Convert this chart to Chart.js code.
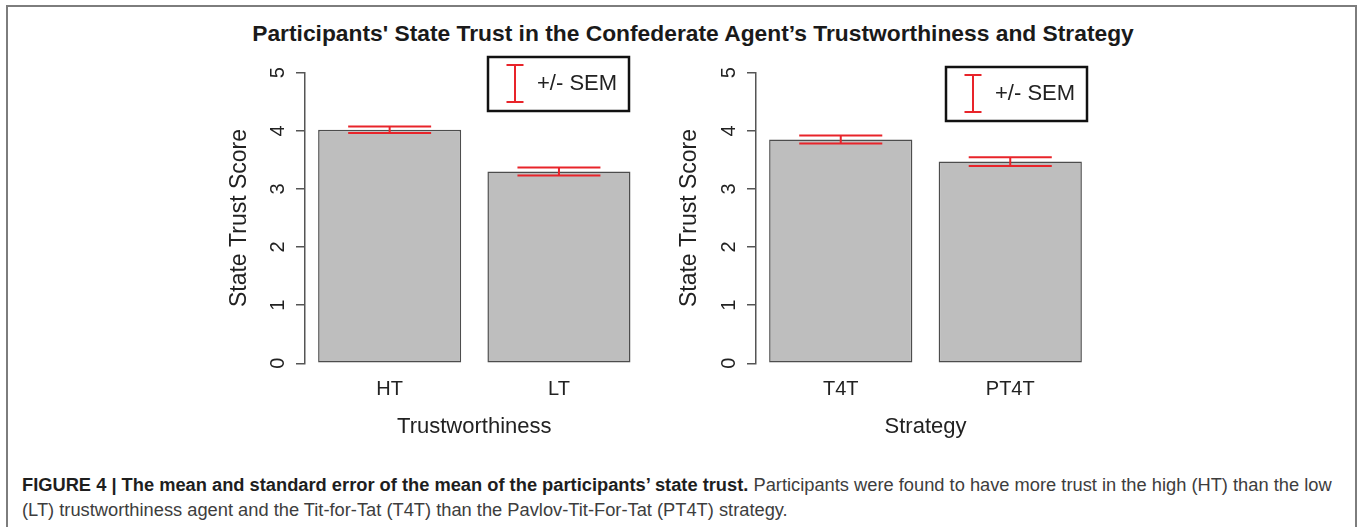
<!DOCTYPE html>
<html>
<head>
<meta charset="utf-8">
<script src="https://cdn.jsdelivr.net/npm/chart.js@4.4.1/dist/chart.umd.min.js"></script>
<style>
  html, body { margin: 0; padding: 0; background: #fff; }
  body { width: 1360px; height: 527px; position: relative; overflow: hidden;
         font-family: "Liberation Sans", Arial, Helvetica, sans-serif; }
  #frame { position: absolute; left: 6px; top: 5px; width: 1347px; height: 540px;
           border: 2px solid #7d7d7d; border-bottom: none; }
  #title { position: absolute; left: 0; width: 1386px; top: 22px; text-align: center;
           font: bold 22.8px/22px "Liberation Sans", Arial, sans-serif; color: #1a1a1a; white-space: nowrap; }
  #caption { position: absolute; left: 22px; top: 472px; font-size: 18.3px; line-height: 25px;
             color: #3d3d3d; white-space: nowrap; }
  #caption b { color: #1e1e1e; }
  .panel { position: absolute; top: 55px; width: 455px; height: 389px; }
  #panelTrust { left: 205px; }
  #panelStrategy { left: 656px; }
</style>
</head>
<body>
<div id="frame"></div>
<div id="title">Participants' State Trust in the Confederate Agent’s Trustworthiness and Strategy</div>
<div class="panel" id="panelTrust"><canvas id="trustChart"></canvas></div>
<div class="panel" id="panelStrategy"><canvas id="strategyChart"></canvas></div>
<div id="caption"><b>FIGURE 4 | The mean and standard error of the mean of the participants’ state trust.</b> Participants were found to have more trust in the high (HT) than the low<br>(LT) trustworthiness agent and the Tit-for-Tat (T4T) than the Pavlov-Tit-For-Tat (PT4T) strategy.</div>

<script>
// Mean state trust score and its standard error for each condition
const trustLabels = ['HT', 'LT'];
const trustMeans = [4.02, 3.30];
const trustSem = [0.056, 0.068];

const strategyLabels = ['T4T', 'PT4T'];
const strategyMeans = [3.85, 3.47];
const strategySem = [0.07, 0.075];

const yTicks = [0, 1, 2, 3, 4, 5];

const FONT = '"Liberation Sans", Arial, Helvetica, sans-serif';
const INK = '#222';
const AXIS = '#555';
const SEM_RED = '#e8242a';

// Error bars (mean +/- SEM) drawn on top of each bar
const semBars = {
  id: 'semBars',
  afterDatasetsDraw(chart) {
    const ds = chart.data.datasets[0];
    const meta = chart.getDatasetMeta(0);
    const y = chart.scales.y;
    const ctx = chart.ctx;
    ctx.save();
    ctx.strokeStyle = SEM_RED;
    ctx.lineWidth = 2;
    meta.data.forEach((bar, i) => {
      const m = ds.data[i], s = ds.sem[i];
      const yt = y.getPixelForValue(m + s);
      const yb = y.getPixelForValue(m - s);
      const hw = bar.width * 0.29;
      ctx.beginPath();
      ctx.moveTo(bar.x, yt); ctx.lineTo(bar.x, yb);
      ctx.moveTo(bar.x - hw, yt); ctx.lineTo(bar.x + hw, yt);
      ctx.moveTo(bar.x - hw, yb); ctx.lineTo(bar.x + hw, yb);
      ctx.stroke();
    });
    ctx.restore();
  }
};

// Boxed key explaining the error bar symbol
const semKey = {
  id: 'semKey',
  afterDraw(chart, args, o) {
    const a = chart.chartArea;
    const ctx = chart.ctx;
    const x0 = a.left + o.dx, y0 = a.top + o.dy;
    ctx.save();
    ctx.strokeStyle = '#111';
    ctx.lineWidth = 2.5;
    ctx.strokeRect(x0, y0, o.w, o.h);
    const sx = x0 + 27, st = y0 + 8, sb = y0 + 45;
    ctx.strokeStyle = SEM_RED;
    ctx.lineWidth = 2;
    ctx.beginPath();
    ctx.moveTo(sx, st); ctx.lineTo(sx, sb);
    ctx.moveTo(sx - 8.5, st); ctx.lineTo(sx + 8.5, st);
    ctx.moveTo(sx - 8.5, sb); ctx.lineTo(sx + 8.5, sb);
    ctx.stroke();
    ctx.fillStyle = INK;
    ctx.font = '22px ' + FONT;
    ctx.textBaseline = 'middle';
    ctx.textAlign = 'left';
    ctx.fillText('+/- SEM', x0 + 49, y0 + 27);
    ctx.restore();
  }
};

// Keep the plot region fixed: no extra room reserved for edge labels
function noEdgePadding(s) {
  s.paddingTop = 0; s.paddingBottom = 0; s.paddingLeft = 0; s.paddingRight = 0;
}

function makeChart(id, labels, means, sems, xTitle, layout) {
  return new Chart(document.getElementById(id), {
    type: 'bar',
    data: {
      labels: labels,
      datasets: [{
        data: means,
        sem: sems,
        backgroundColor: '#bebebe',
        borderColor: '#4d4d4d',
        borderWidth: 1.5,
        borderSkipped: false,
        barPercentage: 0.845,
        categoryPercentage: 1
      }]
    },
    options: {
      responsive: true,
      maintainAspectRatio: false,
      devicePixelRatio: 1,
      animation: false,
      events: [],
      layout: { padding: { top: 17.7, bottom: 0.7, left: 0, right: layout.right } },
      plugins: {
        legend: { display: false },
        tooltip: { enabled: false },
        semKey: { dx: layout.keyDx, dy: layout.keyDy, w: 141, h: 54 }
      },
      scales: {
        x: {
          afterFit: s => { s.height = 80; noEdgePadding(s); },
          grid: { display: false, drawTicks: false },
          border: { display: false },
          ticks: { padding: 13.7, color: INK, font: { size: 20, family: FONT } },
          title: { display: true, text: xTitle, color: INK,
                   font: { size: 22, family: FONT }, padding: { top: 0, bottom: 3 } }
        },
        y: {
          min: 0, max: 5,
          afterBuildTicks: s => { s.ticks = yTicks.map(v => ({ value: v })); },
          afterFit: s => { s.width = 100; noEdgePadding(s); },
          border: { display: true, color: AXIS, width: 1.5 },
          grid: { display: true, drawOnChartArea: false, drawTicks: true,
                  tickLength: 9, color: AXIS, lineWidth: 1.5 },
          ticks: { minRotation: 90, maxRotation: 90, crossAlign: 'center', padding: 12,
                   color: INK, font: { size: 20, family: FONT } },
          title: { display: true, text: 'State Trust Score', color: INK,
                   font: { size: 23, family: FONT }, padding: { top: layout.yTitlePad, bottom: 0 } }
        }
      }
    },
    plugins: [semBars, semKey]
  });
}

makeChart('trustChart', trustLabels, trustMeans, trustSem, 'Trustworthiness',
  { right: 16.4, keyDx: 183, keyDy: -15.7, yTitlePad: 21.3 });
makeChart('strategyChart', strategyLabels, strategyMeans, strategySem, 'Strategy',
  { right: 16, keyDx: 190, keyDy: -5.7, yTitlePad: 20.3 });
</script>
</body>
</html>
